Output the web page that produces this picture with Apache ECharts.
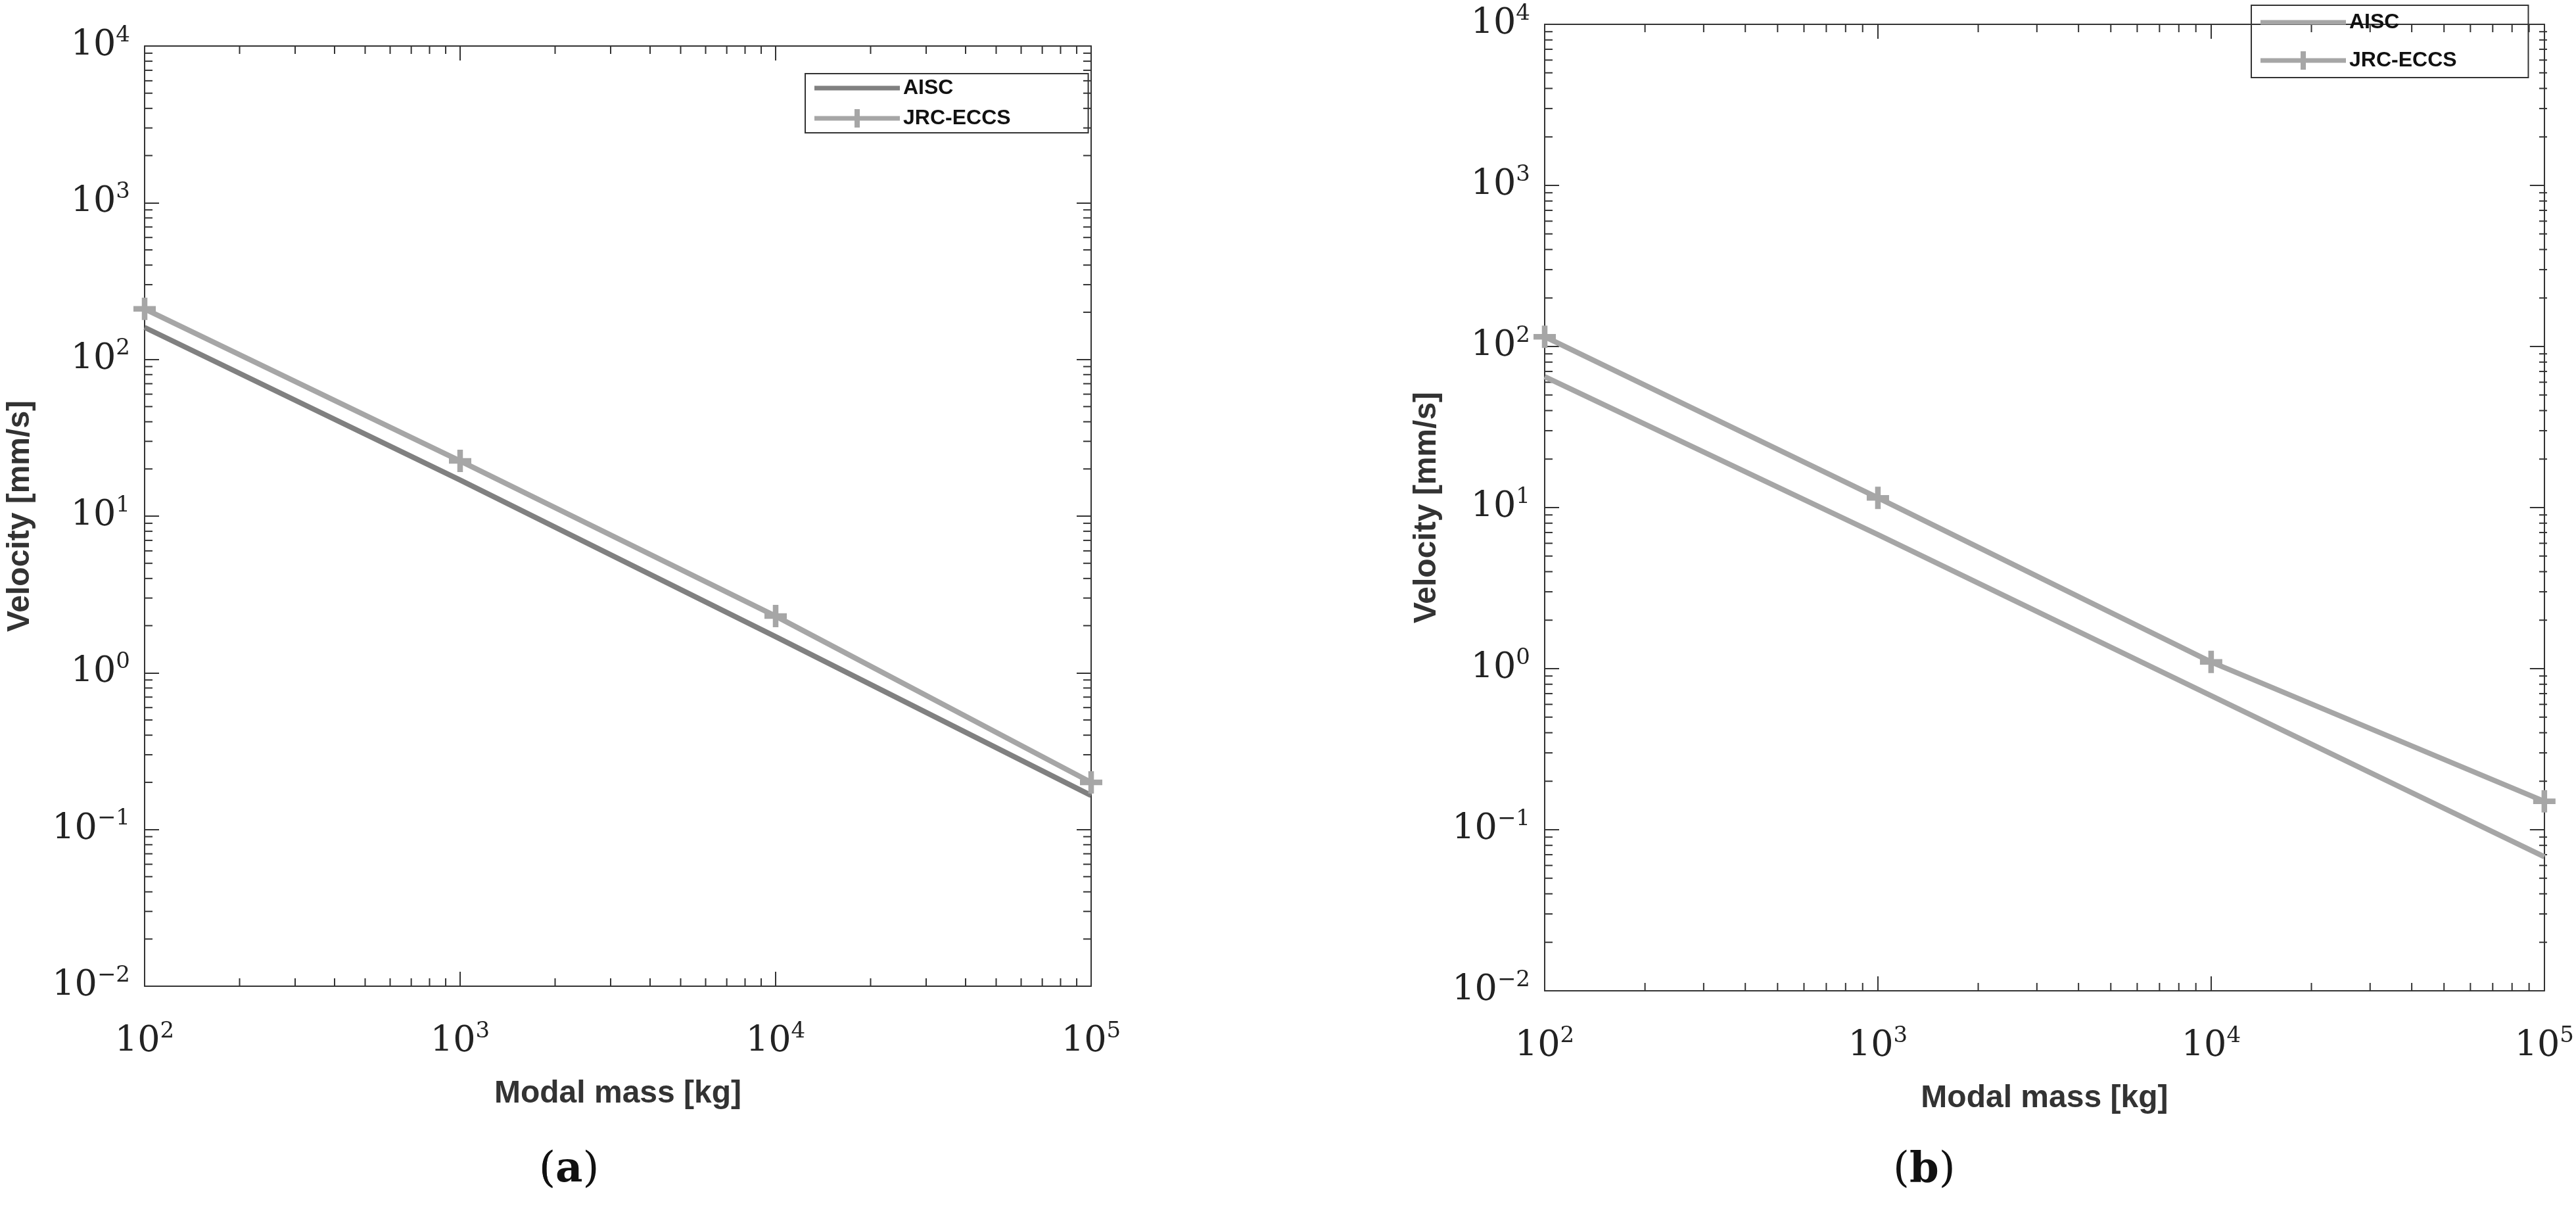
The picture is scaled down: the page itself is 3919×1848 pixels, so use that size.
<!DOCTYPE html>
<html><head><meta charset="utf-8">
<script src="https://cdn.jsdelivr.net/npm/echarts@6/dist/echarts.min.js"></script>
<style>html,body{margin:0;background:#fff}#c{width:3919px;height:1848px}</style>
</head><body><div id="c"></div>
<script>
const mass = [100, 1000, 10000, 100000];
const aiscA = [160, 17, 1.7, 0.165];
const jrcA = [210, 22.5, 2.3, 0.2];
const aiscB = [65, 6.8, 0.68, 0.068];
const jrcB = [115, 11.5, 1.1, 0.15];
const minorX = [];
const minorY = [];
for (let e = 2; e < 5; e++) for (let m = 2; m < 10; m++) minorX.push(m * Math.pow(10, e));
for (let e = -2; e < 4; e++) for (let m = 2; m < 10; m++) minorY.push(m * Math.pow(10, e));

const chart = echarts.init(document.getElementById('c'));
const grids = [
  { left: 220, width: 1440, top: 70, height: 1430 },
  { left: 2350, width: 1525, top: 37, height: 1470 }
];

function powLabel(v) {
  const e = Math.round(Math.log10(v));
  return '{b|10}{s|' + (e < 0 ? '\u2212' + (-e) : e) + '}';
}
const rich = {
  b: { fontFamily: 'DejaVu Serif', fontSize: 54, color: '#222' },
  s: { fontFamily: 'DejaVu Serif', fontSize: 34, color: '#222', verticalAlign: 'top', padding: [0, 0, 32, 0] }
};
const axisLine = { show: true, lineStyle: { color: '#333', width: 2 } };
const tick = { show: true, inside: true, length: 22, lineStyle: { color: '#333', width: 2 } };
const titleStyle = { fontFamily: 'Liberation Sans', fontWeight: 'bold', fontSize: 48, color: '#333' };

const xAxis = [], yAxis = [];
grids.forEach((g, i) => {
  xAxis.push({ type: 'log', gridIndex: i, min: 100, max: 100000, logBase: 10,
    name: 'Modal mass [kg]', nameLocation: 'middle', nameGap: 140, nameTextStyle: titleStyle,
    axisLine, axisTick: tick, splitLine: { show: false },
    axisLabel: { formatter: powLabel, rich, margin: 52 } });
  xAxis.push({ type: 'log', gridIndex: i, min: 100, max: 100000, position: 'top',
    axisLine, axisTick: tick, axisLabel: { show: false }, splitLine: { show: false } });
  yAxis.push({ type: 'log', gridIndex: i, min: 0.01, max: 10000,
    name: 'Velocity [mm/s]', nameLocation: 'middle', nameGap: i === 0 ? 165 : 155, nameTextStyle: titleStyle,
    axisLine, axisTick: tick, splitLine: { show: false },
    axisLabel: { formatter: powLabel, rich, margin: 22 } });
  yAxis.push({ type: 'log', gridIndex: i, min: 0.01, max: 10000, position: 'right',
    axisLine, axisTick: tick, axisLabel: { show: false }, splitLine: { show: false } });
});

function line(name, data, i, color, marker) {
  return { name, type: 'line', xAxisIndex: 2 * i, yAxisIndex: 2 * i,
    data: mass.map((m, k) => [m, data[k]]),
    symbol: marker ? 'path://M-1,-0.25H1V0.25H-1Z M-0.25,-1H0.25V1H-0.25Z' : 'none',
    symbolSize: 34, showSymbol: marker, itemStyle: { color },
    lineStyle: { color, width: 8 }, z: 5, animation: false };
}
function minorTicks(i) {
  return { type: 'custom', xAxisIndex: 2 * i, yAxisIndex: 2 * i, silent: true, z: 1,
    data: minorX.map(v => [v, 'x']).concat(minorY.map(v => [v, 'y'])),
    renderItem(params, api) {
      const g = grids[i];
      const v = api.value(0);
      const L = 12, st = { stroke: '#333', lineWidth: 2 };
      if (params.dataIndex < minorX.length) {
        const x = api.coord([v, 1])[0];
        return { type: 'group', children: [
          { type: 'line', shape: { x1: x, y1: g.top + g.height, x2: x, y2: g.top + g.height - L }, style: st },
          { type: 'line', shape: { x1: x, y1: g.top, x2: x, y2: g.top + L }, style: st }] };
      }
      const y = api.coord([1000, v])[1];
      return { type: 'group', children: [
        { type: 'line', shape: { x1: g.left, y1: y, x2: g.left + L, y2: y }, style: st },
        { type: 'line', shape: { x1: g.left + g.width, y1: y, x2: g.left + g.width - L, y2: y }, style: st }] };
    }, animation: false };
}

// legend icons in a 130x30 box: plain line, or line with a cross
const corners = ' M0,0H0.01V0.01H0Z M129.99,29.99H130V30H129.99Z';
const iconLine = 'path://M0,11.5H130V18.5H0Z' + corners;
const iconCross = 'path://M0,11.5H130V18.5H0Z M61,1H69V29H61Z' + corners;
const legendText = { fontFamily: 'Liberation Sans', fontWeight: 'bold', fontSize: 32, color: '#111' };
const legendBase = { orient: 'vertical', itemWidth: 130, itemHeight: 30, itemGap: 14,
  borderColor: '#333', borderWidth: 2, textStyle: legendText, itemStyle: { borderWidth: 0 } };
chart.setOption({
  grid: grids,
  xAxis, yAxis,
  legend: [
    Object.assign({}, legendBase, { data: [{ name: 'AISC', icon: iconLine }, { name: 'JRC-ECCS', icon: iconCross }],
      left: 1225, top: 112, padding: [6, 118, 6, 14] }),
    Object.assign({}, legendBase, { data: [{ name: 'AISC ', icon: iconLine }, { name: 'JRC-ECCS ', icon: iconCross }],
      left: 3425, top: 8, itemGap: 26, padding: [10, 100, 10, 14] })
  ],
  graphic: [
    { type: 'text', left: 820, top: 1748, style: { text: '(', font: '64px "DejaVu Serif"', fill: '#111', rich: {} } },
    { type: 'text', left: 820, top: 1748, style: { text: '({a|a})', font: '64px "DejaVu Serif"', fill: '#111',
      rich: { a: { font: 'bold 64px "DejaVu Serif"', fill: '#111' } } } },
    { type: 'text', left: 2880, top: 1748, style: { text: '({a|b})', font: '64px "DejaVu Serif"', fill: '#111',
      rich: { a: { font: 'bold 64px "DejaVu Serif"', fill: '#111' } } } }
  ],
  series: [
    line('AISC', aiscA, 0, '#808080', false),
    line('JRC-ECCS', jrcA, 0, '#a6a6a6', true),
    line('AISC ', aiscB, 1, '#a6a6a6', false),
    line('JRC-ECCS ', jrcB, 1, '#a6a6a6', true),
    minorTicks(0), minorTicks(1)
  ]
});
</script></body></html>
